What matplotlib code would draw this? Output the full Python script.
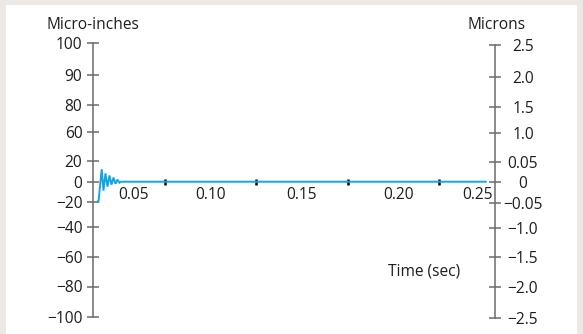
import numpy as np
import matplotlib
matplotlib.use("Agg")
import matplotlib.pyplot as plt
from matplotlib.patches import Rectangle
from matplotlib.transforms import ScaledTranslation
from matplotlib.ticker import NullLocator

plt.rcParams['font.family'] = ['Open Sans', 'DejaVu Sans']

# ---------------- data ----------------
time_sec = [0.0385, 0.0388, 0.04055, 0.04153, 0.04262, 0.04372, 0.04481,
            0.0459, 0.0470, 0.04809, 0.04918, 0.05027, 0.05109, 0.2505]
displacement_uin = [-20, -20, 12, -9, 8, -5, 6, -3, 4, -2, 2, -1, 0, 0]

uin_ticks = [-100, -80, -60, -40, -20, 0, 20, 60, 80, 90, 100]
uin_labels = ['\u2212100', '\u221280', '\u221260', '\u221240', '\u221220', '0',
              '20', '60', '80', '90', '100']
micron_ticks = [-2.5, -2.0, -1.5, -1.0, -0.05, 0, 0.05, 1.0, 1.5, 2.0, 2.5]
micron_labels = ['\u22122.5', '\u22122.0', '\u22121.5', '\u22121.0', '\u22120.05',
                 '0', '0.05', '1.0', '1.5', '2.0', '2.5']
time_ticks = [0.05, 0.10, 0.15, 0.20, 0.25]
time_labels = ['0.05', '0.10', '0.15', '0.20', '0.25']
time_marks = [0.075, 0.125, 0.175, 0.225]

# ---------------- layout / style ----------------
W, H = 583, 334
uin_pos = [0, 30.2, 59.7, 89.7, 115.2, 135, 155.7, 184.7, 211.7, 241.7, 273.4]
micron_pos = [0, 31.6, 61.6, 90.6, 115, 136.3, 156, 185, 211.6, 241, 273.3]
label_dx_px = [15, 0, 0, 5, -7.5]
gray = '#6b6b6b'
txt = '#1e1e1e'
blue = '#12a5e3'
fs = 11.2

fig = plt.figure(figsize=(W / 100, H / 100), dpi=100, facecolor='#ebe8e6')
fig.add_artist(Rectangle((6 / W, 0), (577 - 6) / W, (H - 5) / H,
                         transform=fig.transFigure, facecolor='white',
                         edgecolor='none', zorder=-10))

# left axis (micro-inches)
ax = fig.add_axes([93 / W, (H - 316.7) / H, 402 / W, 273.4 / H])
ax.patch.set_visible(False)
ax.set_yscale('function', functions=(lambda v: np.interp(v, uin_ticks, uin_pos),
                                     lambda p: np.interp(p, uin_pos, uin_ticks)))
ax.set_ylim(-100, 100)
ax.set_xlim(0.0358, 0.2555)

ax.plot(time_sec, displacement_uin, color=blue, lw=1.4, solid_joinstyle='miter',
        zorder=3)

for s in ['top', 'right']:
    ax.spines[s].set_visible(False)
ax.spines['left'].set_color(gray)
ax.spines['left'].set_linewidth(1.1)
ax.spines['bottom'].set_position(('data', 0))
ax.spines['bottom'].set_color('none')

ax.set_yticks(uin_ticks, labels=uin_labels)
ax.yaxis.set_minor_locator(NullLocator())
ax.tick_params(axis='y', direction='inout', length=8, width=1.1, color=gray,
               pad=3.6, labelsize=fs, labelcolor=txt)

ax.set_xticks(time_ticks, labels=time_labels)
ax.set_xticks(time_marks, minor=True)
ax.tick_params(axis='x', which='major', length=0, pad=4.0, labelsize=fs,
               labelcolor=txt)
ax.tick_params(axis='x', which='minor', direction='inout', length=4.5, width=1.8,
               color='black')
for lbl, dx in zip(ax.get_xticklabels(), label_dx_px):
    lbl.set_transform(lbl.get_transform() +
                      ScaledTranslation(dx / 100, 0, fig.dpi_scale_trans))

# right axis (microns)
ax2 = fig.add_axes([93 / W, (H - 318.3) / H, 402 / W, 273.3 / H])
ax2.patch.set_visible(False)
ax2.set_yscale('function', functions=(lambda v: np.interp(v, micron_ticks, micron_pos),
                                      lambda p: np.interp(p, micron_pos, micron_ticks)))
ax2.set_ylim(-2.5, 2.5)
ax2.xaxis.set_visible(False)
for s in ['top', 'bottom', 'left']:
    ax2.spines[s].set_visible(False)
ax2.spines['right'].set_color(gray)
ax2.spines['right'].set_linewidth(1.1)
ax2.yaxis.tick_right()
ax2.set_yticks(micron_ticks, labels=micron_labels)
ax2.yaxis.set_minor_locator(NullLocator())
ax2.tick_params(axis='y', direction='inout', length=8, width=1.1, color=gray,
                pad=16.2, labelsize=fs, labelcolor=txt)
for lbl in ax2.get_yticklabels():
    lbl.set_horizontalalignment('center')

# axis titles
fig.text(93 / W, 1 - 25 / H, 'Micro-inches', ha='center', va='center',
         fontsize=fs, color=txt)
fig.text(497 / W, 1 - 25 / H, 'Microns', ha='center', va='center',
         fontsize=fs, color=txt)
fig.text(424 / W, 1 - 272 / H, 'Time (sec)', ha='center', va='center',
         fontsize=fs, color=txt)

fig.savefig('out.png', dpi=100, facecolor=fig.get_facecolor())
